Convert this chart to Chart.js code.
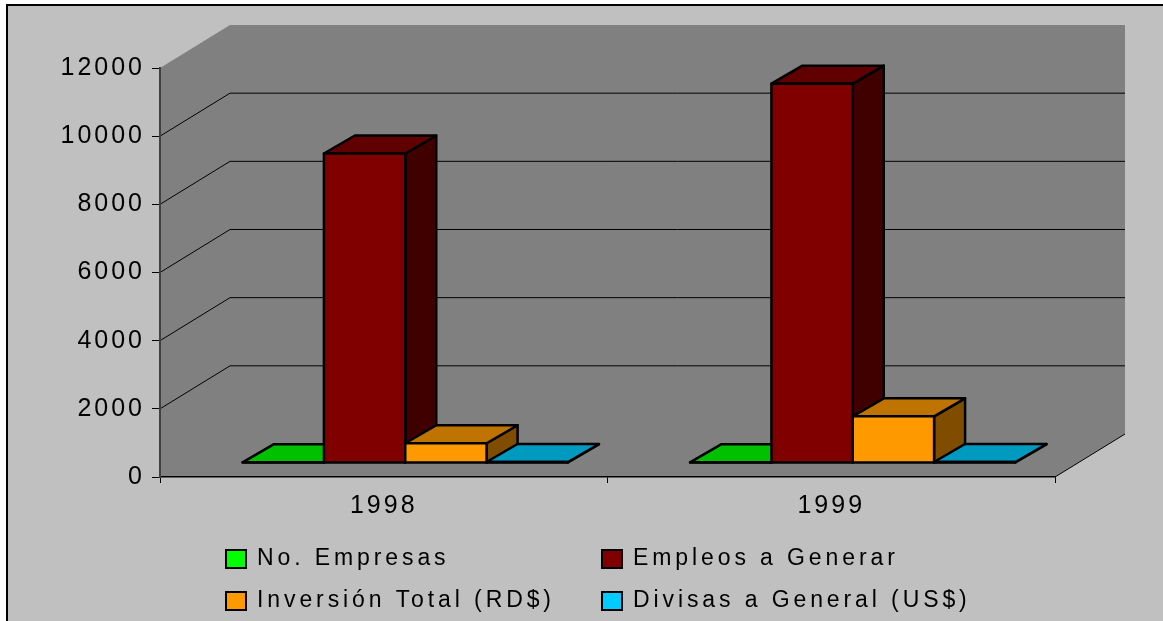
<!DOCTYPE html>
<html>
<head>
<meta charset="utf-8">
<script src="https://cdn.jsdelivr.net/npm/chart.js@4.4.0/dist/chart.umd.min.js"></script>
<style>
  body { margin: 0; background: #ffffff; }
  canvas { display: block; }
</style>
</head>
<body>
<canvas id="chart3d" width="1163" height="621"></canvas>
<script>
// data
var years = ['1998', '1999'];
var seriesNames = ['No. Empresas', 'Empleos a Generar', 'Inversión Total (RD$)', 'Divisas a General (US$)'];
var noEmpresas = [20, 20];
var empleos = [9080, 11130];
var inversion = [580, 1370];
var divisas = [30, 30];
var yTicks = [0, 2000, 4000, 6000, 8000, 10000, 12000];

// excel style colours: front face, top face, side face
var frontColors = ['#00ff00', '#800000', '#ff9900', '#00ccff'];
var topColors = ['#00c000', '#600000', '#bf7300', '#0099bf'];
var sideColors = ['#008000', '#400000', '#804d00', '#006680'];

var FONT = '"Liberation Sans", Arial, sans-serif';
var WALL = { dx: 70, dy: -43 };   // depth of the back wall
var SHIFT = { dx: 21.5, dy: -14 }; // where the bar row sits in depth
var BOX = { dx: 31, dy: -18 };    // depth of one bar

function poly(ctx, pts, fill) {
    ctx.beginPath();
    ctx.moveTo(pts[0][0], pts[0][1]);
    for (var k = 1; k < pts.length; k++) ctx.lineTo(pts[k][0], pts[k][1]);
    ctx.closePath();
    ctx.fillStyle = fill;
    ctx.fill();
    ctx.stroke();
}

var excel3d = {
    id: 'excel3d',
    beforeDraw: function (chart) {
        var ctx = chart.ctx, a = chart.chartArea, ys = chart.scales.y;
        ctx.save();
        ctx.fillStyle = '#ffffff';
        ctx.fillRect(0, 0, chart.width, chart.height);
        ctx.fillStyle = '#c0c0c0';
        ctx.fillRect(7, 5, chart.width - 7, chart.height - 5);
        ctx.strokeStyle = '#000';
        ctx.lineWidth = 2;
        ctx.beginPath();
        ctx.moveTo(7, chart.height);
        ctx.lineTo(7, 5);
        ctx.lineTo(chart.width, 5);
        ctx.stroke();

        // side wall + back wall + floor
        ctx.fillStyle = '#808080';
        ctx.beginPath();
        ctx.moveTo(a.left, a.top);
        ctx.lineTo(a.left + WALL.dx, a.top + WALL.dy);
        ctx.lineTo(a.right + WALL.dx, a.top + WALL.dy);
        ctx.lineTo(a.right + WALL.dx, a.bottom + WALL.dy);
        ctx.lineTo(a.right, a.bottom);
        ctx.lineTo(a.left, a.bottom);
        ctx.closePath();
        ctx.fill();

        // gridlines on side and back wall
        ctx.lineWidth = 1;
        ctx.strokeStyle = '#000';
        yTicks.forEach(function (v) {
            if (v === 0 || v === yTicks[yTicks.length - 1]) return;
            var py = ys.getPixelForValue(v);
            ctx.beginPath();
            ctx.moveTo(a.left, py);
            ctx.lineTo(a.left + WALL.dx, py + WALL.dy);
            ctx.lineTo(a.right + WALL.dx, py + WALL.dy);
            ctx.stroke();
        });
        ctx.beginPath();
        ctx.moveTo(a.right, a.bottom);
        ctx.lineTo(a.right + WALL.dx, a.bottom + WALL.dy);
        ctx.stroke();
        ctx.restore();
        ctx.letterSpacing = '3px';
    },
    beforeDatasetsDraw: function (chart) {
        var ctx = chart.ctx;
        ctx.save();
        ctx.lineWidth = 2.5;
        ctx.lineJoin = 'round';
        ctx.strokeStyle = '#000';
        for (var j = 0; j < years.length; j++) {
            chart.data.datasets.forEach(function (ds, i) {
                var bar = chart.getDatasetMeta(i).data[j];
                var w = bar.width;
                var x0 = bar.x - w / 2 + SHIFT.dx, x1 = x0 + w;
                var top = bar.y + SHIFT.dy, base = bar.base + SHIFT.dy;
                poly(ctx, [[x1, top], [x1 + BOX.dx, top + BOX.dy], [x1 + BOX.dx, base + BOX.dy], [x1, base]], sideColors[i]);
                poly(ctx, [[x0, top], [x0 + BOX.dx, top + BOX.dy], [x1 + BOX.dx, top + BOX.dy], [x1, top]], topColors[i]);
                poly(ctx, [[x0, top], [x1, top], [x1, base], [x0, base]], frontColors[i]);
            });
        }
        ctx.restore();
        return false;
    },
    afterDraw: function (chart) {
        var ctx = chart.ctx;
        ctx.save();
        ctx.font = '23px ' + FONT;
        ctx.letterSpacing = '3.9px';
        ctx.textBaseline = 'alphabetic';
        ctx.textAlign = 'left';
        chart.data.datasets.forEach(function (ds, i) {
            var bx = [226, 602][i % 2];
            var base = [565, 607][Math.floor(i / 2)];
            ctx.fillStyle = ds.backgroundColor;
            ctx.fillRect(bx, base - 15, 20, 18);
            ctx.lineWidth = 2;
            ctx.strokeStyle = '#000';
            ctx.strokeRect(bx, base - 15, 20, 18);
            ctx.fillStyle = '#000';
            ctx.fillText(ds.label, bx + 31, base);
        });
        ctx.restore();
    }
};

Chart.defaults.font.family = FONT;

var ctx = document.getElementById('chart3d').getContext('2d');
var chart = new Chart(ctx, {
    type: 'bar',
    data: {
        labels: years,
        datasets: [
            { label: seriesNames[0], data: noEmpresas, backgroundColor: frontColors[0] },
            { label: seriesNames[1], data: empleos, backgroundColor: frontColors[1] },
            { label: seriesNames[2], data: inversion, backgroundColor: frontColors[2] },
            { label: seriesNames[3], data: divisas, backgroundColor: frontColors[3] }
        ]
    },
    options: {
        responsive: false,
        animation: false,
        layout: { padding: { left: 0, top: 68, right: 108, bottom: 0 } },
        datasets: { bar: { categoryPercentage: 0.727, barPercentage: 1 } },
        plugins: {
            legend: { display: false },
            tooltip: { enabled: false }
        },
        scales: {
            x: {
                grid: { offset: true, drawOnChartArea: false, tickLength: 6, color: '#000' },
                border: { color: '#000', width: 1.5 },
                ticks: { color: '#000', font: { size: 25 }, padding: 8 },
                afterFit: function (s) { s.height = 144; }
            },
            y: {
                min: 0,
                max: 12000,
                afterBuildTicks: function (s) {
                    s.ticks = yTicks.map(function (v) { return { value: v }; });
                },
                ticks: {
                    color: '#000',
                    font: { size: 25 },
                    padding: 7,
                    callback: function (v) { return String(v); }
                },
                grid: { drawOnChartArea: false, tickLength: 8, color: '#000' },
                border: { color: '#404040', width: 2 },
                afterFit: function (s) { s.width = 160; }
            }
        }
    },
    plugins: [excel3d]
});
</script>
</body>
</html>
